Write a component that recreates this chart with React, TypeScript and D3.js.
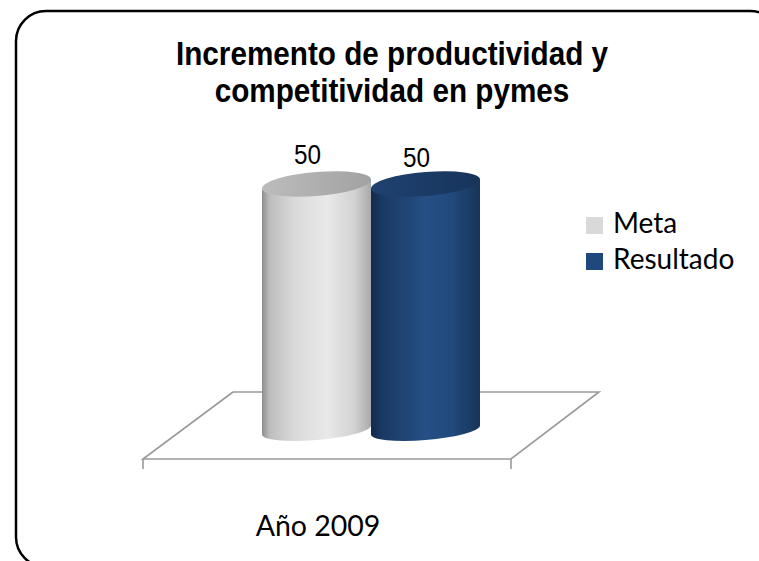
import React from "react";
import * as d3 from "d3";

const titleLines = ["Incremento de productividad y", "competitividad en pymes"];
const categories = ["Año 2009"];
const seriesNames = ["Meta", "Resultado"];
const metaValues = [50];
const resultadoValues = [50];

const W = 759;
const H = 561;

export default function App() {
  const series = [
    { name: seriesNames[0], values: metaValues, body: "gMeta", top: "gMetaTop", swatch: "#d9d9d9" },
    { name: seriesNames[1], values: resultadoValues, body: "gRes", top: "gResTop", swatch: "#1f497d" },
  ];

  const x0 = d3.scaleBand<string>().domain(categories).range([262, 480]).padding(0);
  const x1 = d3.scaleBand<string>().domain(seriesNames).range([0, x0.bandwidth()]).padding(0);
  const y = d3.scaleLinear().domain([0, 50]).range([430, 184]);

  const skew = -4.6;
  const ryTop = 12;
  const ryBot = 10;

  const floorBackY = 392;
  const floorFrontY = 459;
  const floorPts: [number, number][] = [
    [233, floorBackY],
    [599, floorBackY],
    [511, floorFrontY],
    [143, floorFrontY],
  ];
  const floorLine = d3.line()(floorPts.concat([floorPts[0]]) as [number, number][]);

  return (
    <svg width={W} height={H} style={{ position: "absolute", left: 0, top: 0, background: "#fff" }}>
      <defs>
        <linearGradient id="gMeta" x1="0" x2="1" y1="0" y2="0">
          <stop offset="0" stopColor="#8e8e8e" />
          <stop offset="0.07" stopColor="#bdbdbd" />
          <stop offset="0.3" stopColor="#dadada" />
          <stop offset="0.6" stopColor="#e9e9e9" />
          <stop offset="0.85" stopColor="#d2d2d2" />
          <stop offset="1" stopColor="#a9a9a9" />
        </linearGradient>
        <linearGradient id="gMetaTop" x1="0" x2="1" y1="0" y2="0">
          <stop offset="0" stopColor="#bcbcbc" />
          <stop offset="1" stopColor="#a2a2a2" />
        </linearGradient>
        <linearGradient id="gRes" x1="0" x2="1" y1="0" y2="0">
          <stop offset="0" stopColor="#12294b" />
          <stop offset="0.1" stopColor="#1a3962" />
          <stop offset="0.5" stopColor="#254f85" />
          <stop offset="0.75" stopColor="#21497b" />
          <stop offset="1" stopColor="#173459" />
        </linearGradient>
        <linearGradient id="gResTop" x1="0" x2="1" y1="0" y2="0">
          <stop offset="0" stopColor="#1f4270" />
          <stop offset="1" stopColor="#17345b" />
        </linearGradient>
      </defs>

      <rect x={16} y={11} width={764} height={556} rx={30} ry={30} fill="#fff" stroke="#000" strokeWidth={2.5} />

      <g fontFamily="'Liberation Sans', Arial, sans-serif" fontWeight="bold" fontSize={33} textAnchor="middle" fill="#000">
        {titleLines.map((t, i) => (
          <text key={i} transform={`translate(392, ${65 + i * 37}) scale(0.9, 1)`}>{t}</text>
        ))}
      </g>

      <path d={floorLine || ""} fill="#fff" stroke="#9a9a9a" strokeWidth={1.6} strokeLinejoin="miter" />
      <line x1={143} x2={143} y1={floorFrontY} y2={469} stroke="#9a9a9a" strokeWidth={1.6} />
      <line x1={511} x2={511} y1={floorFrontY} y2={469} stroke="#9a9a9a" strokeWidth={1.6} />

      {categories.map((c, ci) => (
        <g key={c}>
          {series.map((s, si) => {
            const v = s.values[ci];
            const left = (x0(c) || 0) + (x1(s.name) || 0);
            const w = x1.bandwidth();
            const cx = left + w / 2;
            const rx = w / 2;
            const yT = y(v);
            const yB = y(0);
            const body = `M${-rx},${yT} L${-rx},${yB} A${rx},${ryBot} 0 0 0 ${rx},${yB} L${rx},${yT} Z`;
            return (
              <g key={s.name}>
                <g transform={`translate(${cx},0) skewY(${skew})`}>
                  <path d={body} fill={`url(#${s.body})`} />
                  <ellipse cx={0} cy={yT} rx={rx} ry={ryTop} fill={`url(#${s.top})`} />
                </g>
                <text
                  transform={`translate(${cx - 9}, ${yT - 20 + si * 3}) scale(0.9, 1)`}
                  textAnchor="middle"
                  fontFamily="'Liberation Sans', Arial, sans-serif"
                  fontSize={27}
                  fill="#000"
                >
                  {v}
                </text>
              </g>
            );
          })}
        </g>
      ))}

      {categories.map((c) => (
        <text key={c} x={318} y={536} textAnchor="middle" fontFamily="Lato, 'Open Sans', sans-serif" fontSize={28.5} fill="#000">
          {c}
        </text>
      ))}

      {series.map((s, i) => (
        <g key={s.name} transform={`translate(586, ${217 + i * 36})`}>
          <rect x={0} y={0} width={17} height={17} fill={s.swatch} />
          <text x={27} y={16} fontFamily="Lato, 'Open Sans', sans-serif" fontSize={28} fill="#000">
            {s.name}
          </text>
        </g>
      ))}
    </svg>
  );
}
